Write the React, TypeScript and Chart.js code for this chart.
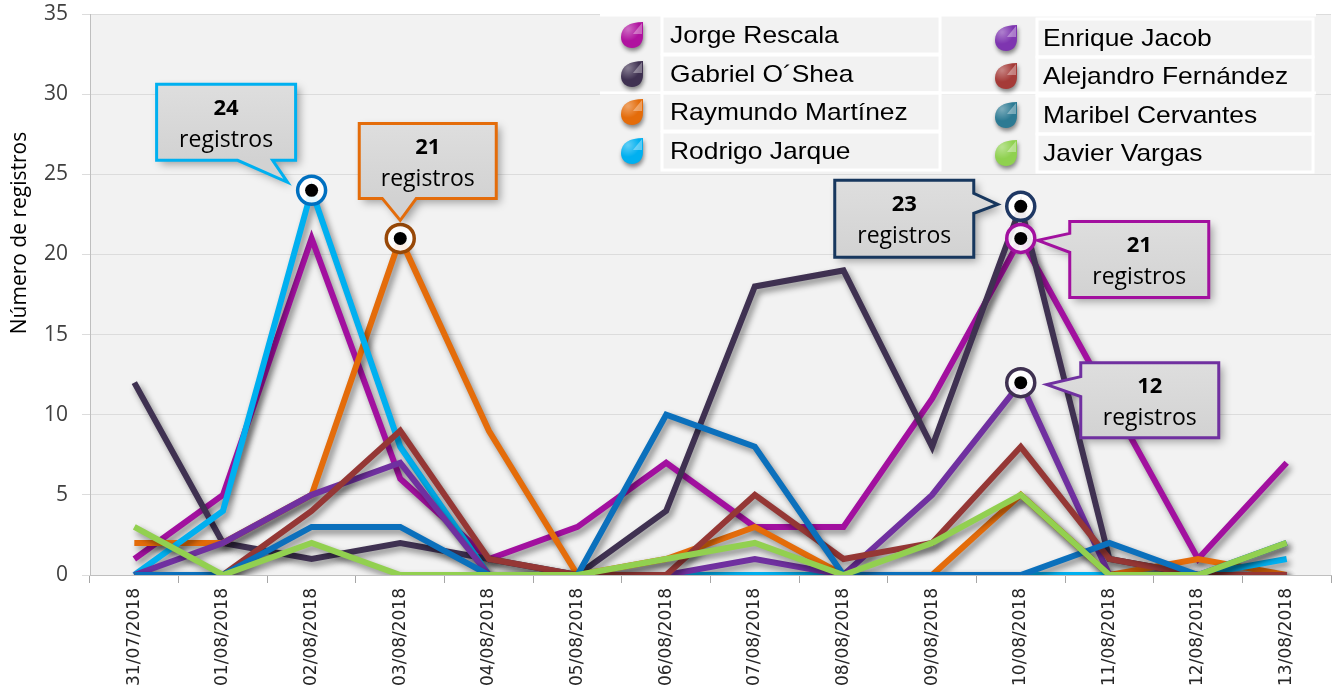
import React, { useEffect, useRef } from "react";
import { Chart, registerables } from "chart.js";

Chart.register(...registerables);

// Fechas (eje X)
const fechas = [
  "31/07/2018", "01/08/2018", "02/08/2018", "03/08/2018", "04/08/2018",
  "05/08/2018", "06/08/2018", "07/08/2018", "08/08/2018", "09/08/2018",
  "10/08/2018", "11/08/2018", "12/08/2018", "13/08/2018",
];

// Registros diarios por persona
const jorgeRescala = [1, 5, 21, 6, 1, 3, 7, 3, 3, 11, 21, 11, 1, 7];
const gabrielOShea = [12, 2, 1, 2, 1, 0, 4, 18, 19, 8, 23, 1, 0, 0];
const raymundoMartinez = [2, 2, 5, 21, 9, 0, 1, 3, 0, 0, 5, 0, 1, 0];
const rodrigoJarque = [0, 4, 24, 8, 0, 0, 0, 0, 0, 0, 0, 0, 0, 1];
const enriqueJacob = [0, 2, 5, 7, 0, 0, 0, 1, 0, 5, 12, 0, 0, 0];
const alejandroFernandez = [0, 0, 4, 9, 1, 0, 0, 5, 1, 2, 8, 1, 0, 0];
const maribelCervantes = [0, 0, 3, 3, 0, 0, 10, 8, 0, 0, 0, 2, 0, 2];
const javierVargas = [3, 0, 2, 0, 0, 0, 1, 2, 0, 2, 5, 0, 0, 2];

const nombres = [
  "Jorge Rescala", "Gabriel O´Shea", "Raymundo Martínez", "Rodrigo Jarque",
  "Enrique Jacob", "Alejandro Fernández", "Maribel Cervantes", "Javier Vargas",
];
const series = [
  jorgeRescala, gabrielOShea, raymundoMartinez, rodrigoJarque,
  enriqueJacob, alejandroFernandez, maribelCervantes, javierVargas,
];
const colores = [
  "#A2109F", "#3F3151", "#E46C0A", "#00B0F0",
  "#7030A0", "#953735", "#0B70BC", "#92D050",
];
const coloresLeyenda = [
  "#B0139F", "#3F3151", "#E46C0A", "#00B0F0",
  "#7E35B0", "#A53B38", "#2C7A93", "#8FD14F",
];

// Eje Y
const yMin = 0;
const yMax = 35;
const yPaso = 5;

// Globos de texto sobre los máximos destacados
const globos = [
  { serie: 3, dia: 2, borde: "#00B0F0", aro: "#0070C0", dx: -155, dy: -106, w: 139, h: 76, lado: "bottom", a: 81, b: 116, px: -24, py: -8 },
  { serie: 2, dia: 3, borde: "#E46C0A", aro: "#984807", dx: -41, dy: -115, w: 137, h: 75, lado: "bottom", a: 23, b: 57, px: 0, py: -18 },
  { serie: 1, dia: 10, borde: "#17375E", aro: "#1F3864", dx: -186, dy: -26, w: 139, h: 77, lado: "right", a: 13, b: 33, px: -23, py: -2 },
  { serie: 0, dia: 10, borde: "#A2109F", aro: "#A2109F", dx: 49, dy: -17, w: 139, h: 76, lado: "left", a: 12, b: 31, px: 17, py: 2 },
  { serie: 4, dia: 10, borde: "#7030A0", aro: "#3F3151", dx: 60, dy: -20, w: 138, h: 75, lado: "left", a: 14, b: 34, px: 26, py: 2 },
];

const fondo = {
  id: "fondo",
  beforeDraw(chart: any) {
    const { ctx, chartArea: a } = chart;
    ctx.save();
    ctx.fillStyle = "#ffffff";
    ctx.fillRect(0, 0, chart.width, chart.height);
    ctx.fillStyle = "#F2F2F2";
    ctx.fillRect(a.left, a.top, a.right - a.left, a.bottom - a.top);
    ctx.restore();
  },
};

const sombras = {
  id: "sombras",
  beforeDatasetDraw(chart: any) {
    const ctx = chart.ctx;
    ctx.save();
    ctx.shadowColor = "rgba(0,0,0,0.45)";
    ctx.shadowBlur = 6;
    ctx.shadowOffsetX = 3;
    ctx.shadowOffsetY = 4;
  },
  afterDatasetDraw(chart: any) {
    chart.ctx.restore();
  },
};

function contornoGota(ctx: CanvasRenderingContext2D, x: number, y: number) {
  ctx.beginPath();
  ctx.moveTo(x + 11, y - 13);
  ctx.bezierCurveTo(x - 2, y - 13, x - 11, y - 8, x - 11, y + 2);
  ctx.bezierCurveTo(x - 11, y + 9, x - 6, y + 13, x, y + 13);
  ctx.bezierCurveTo(x + 7, y + 13, x + 11, y + 8, x + 11, y + 1);
  ctx.closePath();
}

function gota(ctx: CanvasRenderingContext2D, x: number, y: number, color: string) {
  ctx.save();
  contornoGota(ctx, x, y);
  ctx.shadowColor = "rgba(0,0,0,0.45)";
  ctx.shadowBlur = 4;
  ctx.shadowOffsetX = 1;
  ctx.shadowOffsetY = 3;
  ctx.fillStyle = color;
  ctx.fill();
  ctx.shadowColor = "transparent";
  // brillo
  ctx.beginPath();
  ctx.moveTo(x + 10, y - 12);
  ctx.lineTo(x + 1, y - 1);
  ctx.lineTo(x + 10, y - 1);
  ctx.closePath();
  ctx.fillStyle = "rgba(255,255,255,0.35)";
  ctx.fill();
  const h = ctx.createRadialGradient(x - 4, y - 6, 1, x - 4, y - 6, 12);
  h.addColorStop(0, "rgba(255,255,255,0.35)");
  h.addColorStop(1, "rgba(255,255,255,0)");
  contornoGota(ctx, x, y);
  ctx.fillStyle = h;
  ctx.fill();
  ctx.restore();
}

const leyenda = {
  id: "leyenda",
  afterDraw(chart: any) {
    const ctx: CanvasRenderingContext2D = chart.ctx;
    const cols = [
      { icono: 632, texto: 670, l: 662, r: 940, ys: [35, 74, 112, 151] },
      { icono: 1006, texto: 1043, l: 1037, r: 1313, ys: [38, 76, 115, 153] },
    ];
    ctx.save();
    ctx.strokeStyle = "#ffffff";
    ctx.lineWidth = 3;
    ctx.beginPath();
    ctx.moveTo(600, 15);
    ctx.lineTo(1316, 15);
    ctx.moveTo(600, 93);
    ctx.lineTo(1316, 93);
    ctx.stroke();
    cols.forEach((c, ci) => {
      c.ys.forEach((y, ri) => {
        ctx.strokeStyle = "#ffffff";
        ctx.lineWidth = 3;
        ctx.strokeRect(c.l, y - 19, c.r - c.l, 38);
        const i = ci * 4 + ri;
        gota(ctx, c.icono, y, coloresLeyenda[i]);
        ctx.save();
        ctx.translate(c.texto, y + 1);
        ctx.scale(1.1, 1);
        ctx.fillStyle = "#000000";
        ctx.font = "24px 'Liberation Sans', Arial, sans-serif";
        ctx.textBaseline = "middle";
        ctx.textAlign = "left";
        ctx.fillText(nombres[i], 0, 0);
        ctx.restore();
      });
    });
    ctx.restore();

    // título del eje Y
    ctx.save();
    ctx.translate(20, 233);
    ctx.rotate(-Math.PI / 2);
    ctx.fillStyle = "#000000";
    ctx.font = "21px 'Open Sans', sans-serif";
    ctx.textAlign = "center";
    ctx.textBaseline = "middle";
    ctx.fillText("Número de registros", 0, 0);
    ctx.restore();
  },
};

const marcas = {
  id: "marcas",
  afterDatasetsDraw(chart: any) {
    const ctx: CanvasRenderingContext2D = chart.ctx;
    const xs = chart.scales.x;
    const ys = chart.scales.y;
    // aros sobre los puntos
    globos.forEach((g) => {
      const v = series[g.serie][g.dia];
      const x = xs.getPixelForValue(g.dia);
      const y = ys.getPixelForValue(v);
      ctx.save();
      ctx.beginPath();
      ctx.arc(x, y, 14, 0, Math.PI * 2);
      ctx.fillStyle = "rgba(255,255,255,0.9)";
      ctx.fill();
      ctx.lineWidth = 3.5;
      ctx.strokeStyle = g.aro;
      ctx.stroke();
      ctx.beginPath();
      ctx.arc(x, y, 6.5, 0, Math.PI * 2);
      ctx.fillStyle = "#000000";
      ctx.fill();
      ctx.restore();
    });
    // globos
    globos.forEach((g) => {
      const v = series[g.serie][g.dia];
      const x = xs.getPixelForValue(g.dia);
      const y = ys.getPixelForValue(v);
      const L = x + g.dx;
      const T = y + g.dy;
      const R = L + g.w;
      const B = T + g.h;
      const tx = x + g.px;
      const ty = y + g.py;
      ctx.save();
      ctx.beginPath();
      ctx.moveTo(L, T);
      ctx.lineTo(R, T);
      if (g.lado === "right") {
        ctx.lineTo(R, T + g.a);
        ctx.lineTo(tx, ty);
        ctx.lineTo(R, T + g.b);
      }
      ctx.lineTo(R, B);
      if (g.lado === "bottom") {
        ctx.lineTo(L + g.b, B);
        ctx.lineTo(tx, ty);
        ctx.lineTo(L + g.a, B);
      }
      ctx.lineTo(L, B);
      if (g.lado === "left") {
        ctx.lineTo(L, T + g.b);
        ctx.lineTo(tx, ty);
        ctx.lineTo(L, T + g.a);
      }
      ctx.closePath();
      const grad = ctx.createLinearGradient(0, T, 0, B);
      grad.addColorStop(0, "#DEDEDE");
      grad.addColorStop(1, "#D2D2D2");
      ctx.fillStyle = grad;
      ctx.shadowColor = "rgba(0,0,0,0.35)";
      ctx.shadowBlur = 8;
      ctx.shadowOffsetX = 4;
      ctx.shadowOffsetY = 4;
      ctx.fill();
      ctx.shadowColor = "transparent";
      ctx.lineWidth = 3;
      ctx.lineJoin = "miter";
      ctx.strokeStyle = g.borde;
      ctx.stroke();
      const cx = (L + R) / 2;
      ctx.fillStyle = "#000000";
      ctx.textAlign = "center";
      ctx.textBaseline = "middle";
      ctx.font = "bold 22px 'Open Sans', sans-serif";
      ctx.fillText(String(v), cx, T + 24);
      ctx.font = "23px 'Open Sans', sans-serif";
      ctx.fillText("registros", cx, T + 56);
      ctx.restore();
    });
  },
};

export default function App() {
  const ref = useRef<HTMLCanvasElement>(null);

  useEffect(() => {
    const n = series.length;
    const chart = new Chart(ref.current as HTMLCanvasElement, {
      type: "line",
      data: {
        labels: fechas,
        datasets: series.map((d, i) => ({
          label: nombres[i],
          data: d,
          borderColor: colores[i],
          backgroundColor: colores[i],
          borderWidth: 6,
          pointRadius: 0,
          pointHoverRadius: 0,
          tension: 0,
          fill: false,
          order: n - i,
        })),
      },
      options: {
        animation: false,
        responsive: false,
        maintainAspectRatio: false,
        devicePixelRatio: 1,
        events: [],
        layout: { padding: { top: 14, right: 3, left: 0, bottom: 0 } },
        plugins: {
          legend: { display: false },
          tooltip: { enabled: false },
          title: { display: false },
        },
        scales: {
          x: {
            type: "category",
            offset: true,
            afterFit(scale: any) {
              scale.height = 121;
            },
            grid: {
              offset: true,
              drawOnChartArea: false,
              drawTicks: true,
              tickLength: 8,
              color: "#A6A6A6",
            },
            border: { color: "#BFBFBF", width: 1 },
            ticks: {
              autoSkip: false,
              minRotation: 90,
              maxRotation: 90,
              padding: 5,
              color: "#262626",
              font: { family: "'DejaVu Sans', Verdana, sans-serif", size: 17 },
            },
          },
          y: {
            min: yMin,
            max: yMax,
            afterFit(scale: any) {
              scale.width = 90;
              scale.paddingTop = 0;
              scale.paddingBottom = 0;
            },
            grid: {
              color: "#DCDCDC",
              lineWidth: 1,
              drawTicks: true,
              tickLength: 8,
            },
            border: { color: "#BFBFBF", width: 1 },
            ticks: {
              stepSize: yPaso,
              padding: 14,
              color: "#404040",
              font: { family: "'Open Sans', sans-serif", size: 21 },
            },
          },
        },
      },
      plugins: [fondo, sombras, marcas, leyenda],
    } as any);
    return () => chart.destroy();
  }, []);

  return (
    <div style={{ position: "absolute", left: 0, top: 0, width: 1334, height: 696, background: "#ffffff" }}>
      <canvas ref={ref} width={1334} height={696} style={{ display: "block", width: 1334, height: 696 }} />
    </div>
  );
}
